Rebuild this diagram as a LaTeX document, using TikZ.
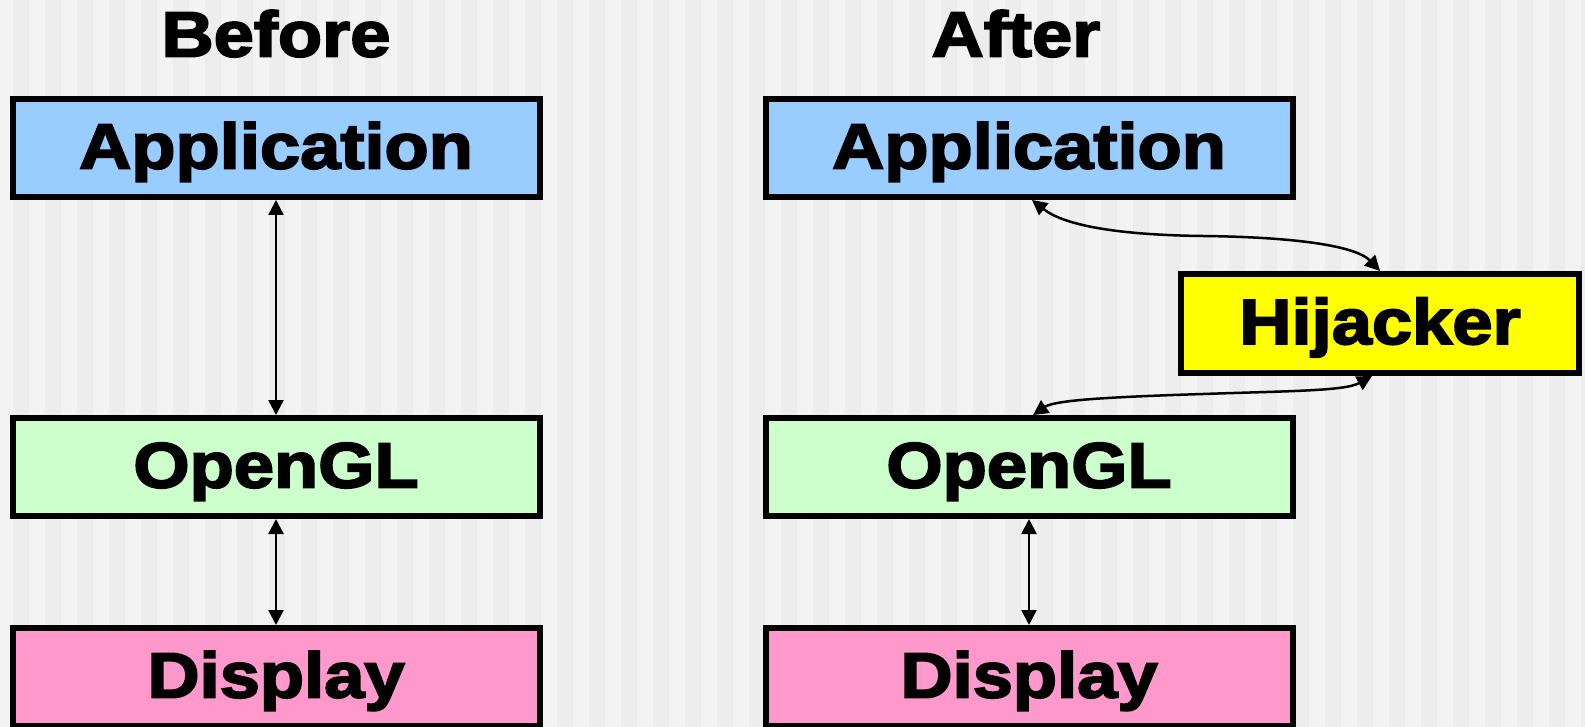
\documentclass[tikz,border=0pt]{standalone}
\usepackage{fontspec}
\newfontfamily\boxfont{Liberation Sans}[BoldFeatures={FakeStretch=1.13,FakeBold=3}]
\usetikzlibrary{arrows.meta}
\definecolor{appblue}{HTML}{99CCFF}
\definecolor{glgreen}{HTML}{CCFFCC}
\definecolor{disppink}{HTML}{FF99CC}
\definecolor{hijyellow}{HTML}{FFFF00}
\definecolor{stripelight}{HTML}{F3F3F3}
\definecolor{stripedark}{HTML}{EDEDED}
\tikzset{
    layer/.style={draw=black,line width=6pt,minimum width=527pt,minimum height=98pt,
        inner sep=0pt,text height=41pt,text depth=0pt,
        font=\boxfont\bfseries\fontsize{64}{70}\selectfont},
    title/.style={inner sep=0pt,text height=41pt,text depth=0pt,
        font=\boxfont\bfseries\fontsize{64}{70}\selectfont},
    link/.style={line width=2.5pt,{Triangle[width=15pt,length=15pt]}-{Triangle[width=15pt,length=15pt]}}
}
\begin{document}
\begin{tikzpicture}[x=1pt,y=-1pt]
    \def\w{1585}%chiều rộng
    \def\h{727}%chiều cao
    \useasboundingbox (0,0) rectangle (\w,\h);
    \clip (0,0) rectangle (\w,\h);
    % nền sọc dọc
    \fill[stripelight] (0,0) rectangle (\w,\h);
    \foreach \k in {0,...,49}
        \fill[stripedark] (13+32*\k,0) rectangle +(16,\h);
    % tiêu đề
    \path (276,36) node[title] (before) {Before}
          (1016,36) node[title] (after) {After};
    % cột trái
    \path (276,148) node[layer,fill=appblue] (appL) {Application}
          (276,467) node[layer,fill=glgreen] (glL) {OpenGL}
          (276,677) node[layer,fill=disppink] (dispL) {Display};
    % cột phải
    \path (1029,148) node[layer,fill=appblue] (appR) {Application}
          (1029,467) node[layer,fill=glgreen] (glR) {OpenGL}
          (1029,677) node[layer,fill=disppink] (dispR) {Display}
          (1380,323.5) node[layer,fill=hijyellow,minimum width=398pt,minimum height=99pt] (hij) {Hijacker};
    % mũi tên
    \foreach \a/\b in {appL/glL,glL/dispL,glR/dispR}
        \draw[link] (\a.south)--(\b.north);
    \draw[link] ([xshift=3pt]appR.south) .. controls (1065,226) and (1120,235) .. (1203,236)
        .. controls (1290,237) and (1355,245) .. (hij.north);
    \draw[link] ([xshift=-8pt]hij.south) .. controls (1345,391) and (1290,391) .. (1203,394)
        .. controls (1110,397) and (1055,400) .. ([xshift=4pt]glR.north);
\end{tikzpicture}
\end{document}
